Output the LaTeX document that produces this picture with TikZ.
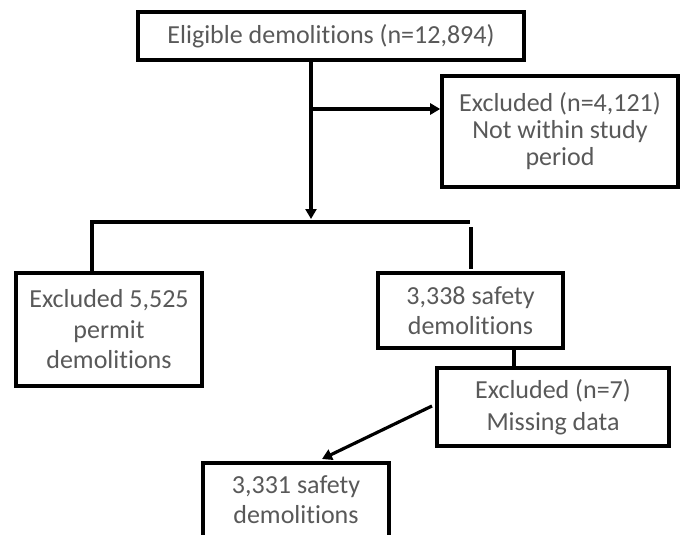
\documentclass[tikz,border=0pt]{standalone}
\usepackage{fontspec}
\setmainfont{Carlito}[Ligatures=NoCommon]
\usetikzlibrary{arrows.meta,calc}
\definecolor{txtgray}{RGB}{89,89,89}
\begin{document}
\begin{tikzpicture}[x=1pt,y=-1pt,
  box/.style={draw=black,line width=3.6pt,fill=white,align=center,text=txtgray,inner sep=0pt},
  big/.style={font=\fontsize{26}{27}\selectfont},
  mids/.style={font=\fontsize{26}{30.5}\selectfont},
  conn/.style={line width=3.2pt,draw=black},
  arr/.style={conn,-{Triangle[length=10pt,width=11pt]}}]
\useasboundingbox (0,0) rectangle (681,535);
\node[box,big,minimum width=386pt,minimum height=48pt] (top) at (331,36) {Eligible demolitions (n=12,894)};
\node[box,big,minimum width=236pt,minimum height=111pt] (ex1) at (560,131.5) {Excluded (n=4,121)\\Not within study\\period};
\node[box,mids,minimum width=186pt,minimum height=113pt] (left) at (109,329.5) {Excluded 5,525\\permit\\demolitions};
\node[box,mids,minimum width=185pt,minimum height=75pt] (mid) at (470.5,310.5) {3,338 safety\\demolitions};
\node[box,font=\fontsize{26}{32}\selectfont,minimum width=232pt,minimum height=78pt] (ex2) at (553,407) {Excluded (n=7)\\Missing data};
\node[box,mids,minimum width=186pt,minimum height=74pt,anchor=north] (bot) at (296,461) {3,331 safety\\demolitions};
\coordinate (s1) at (311,60);
\coordinate (tip1) at (311,219);
\coordinate (b1) at (311,109);
\coordinate (hl) at (92,222);
\coordinate (hr) at (470,222);
\coordinate (lt) at (92,273);
\coordinate (r1) at (471,227);
\coordinate (r2) at (471,269);
\coordinate (m1) at (514,348);
\coordinate (m2) at (514,368);
\coordinate (a1) at (432,406);
\coordinate (a2) at (322,459);
\draw[arr] (s1) -- (tip1);
\draw[arr] (b1) -- (b1 -| ex1.west);
\draw[conn] (lt) -- (hl) -- (hr);
\draw[conn] (r1) -- (r2);
\draw[conn] (m1) -- (m2);
\draw[arr] (a1) -- (a2);
\end{tikzpicture}
\end{document}
